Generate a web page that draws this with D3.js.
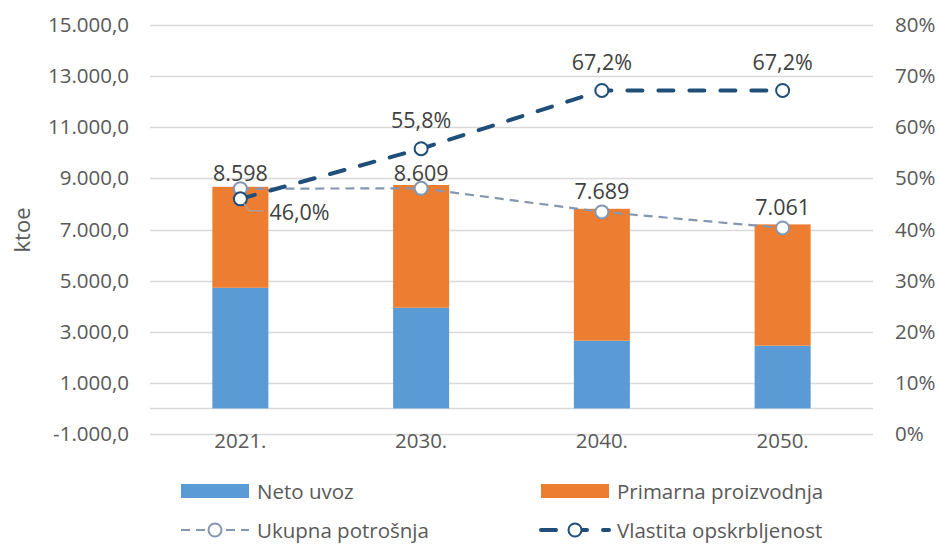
<!DOCTYPE html>
<html>
<head>
<meta charset="utf-8">
<script src="https://cdn.jsdelivr.net/npm/d3@7"></script>
<style>
  body { margin: 0; background: #fff; }
  svg text { font-family: "Open Sans", "Liberation Sans", sans-serif; }
</style>
</head>
<body>
<svg id="chart" width="939" height="544"></svg>
<script>
// chart data
var years = ['2021.', '2030.', '2040.', '2050.']
var netoUvoz = [4720, 3940, 2650, 2455]
var primarnaProizvodnja = [3950, 4800, 5160, 4745]
var ukupnaPotrosnja = [8598, 8609, 7689, 7061]
var vlastitaOpskrbljenost = [0.460, 0.558, 0.672, 0.672]
var leftTicks = [-1000, 1000, 3000, 5000, 7000, 9000, 11000, 13000, 15000]
var rightTicks = [0, 0.1, 0.2, 0.3, 0.4, 0.5, 0.6, 0.7, 0.8]

var hr = d3.formatLocale({decimal: ',', thousands: '.', grouping: [3], currency: ['', ' kn'], minus: '-'})
var fmtLeft = hr.format(',.1f')
var fmtInt = hr.format(',d')
var fmtPct1 = hr.format('.1%')
var fmtPct0 = hr.format('.0%')

var svg = d3.select('#chart')
var textColor = '#595959', labelColor = '#404040'

var x = d3.scaleBand().domain(years).range([150, 873]).paddingInner(0.69).paddingOuter(0.345)
var y = d3.scaleLinear().domain([-1000, 15000]).range([434, 25])
var y2 = d3.scaleLinear().domain([0, 0.8]).range([434, 25])
var cx = function (d, i) { return x(years[i]) + x.bandwidth() / 2 }

// gridlines + zero line
svg.append('g').selectAll('line').data(leftTicks.concat([0])).join('line')
  .attr('x1', 150).attr('x2', 873)
  .attr('y1', d => Math.round(y(d)) + 0.5).attr('y2', d => Math.round(y(d)) + 0.5)
  .attr('stroke', '#d9d9d9').attr('stroke-width', 1.3)

// left axis
var gl = svg.append('g').attr('transform', 'translate(129,0)')
  .call(d3.axisLeft(y).tickValues(leftTicks).tickFormat(fmtLeft).tickSize(0).tickPadding(0))
gl.select('.domain').remove()
gl.selectAll('text').attr('fill', textColor).style('font-size', '20.5px').style('font-family', '"Open Sans"')

// right axis
var gr = svg.append('g').attr('transform', 'translate(895,0)')
  .call(d3.axisRight(y2).tickValues(rightTicks).tickFormat(fmtPct0).tickSize(0).tickPadding(0))
gr.select('.domain').remove()
gr.selectAll('text').attr('fill', textColor).style('font-size', '20.5px').style('font-family', '"Open Sans"')

// x labels
svg.append('g').selectAll('text').data(years).join('text')
  .attr('x', (d, i) => cx(d, i)).attr('y', 440)
  .attr('text-anchor', 'middle').attr('dominant-baseline', 'central')
  .attr('fill', textColor).style('font-size', '20.5px')
  .text(d => d)

// y title
svg.append('text').attr('transform', 'translate(21,230) rotate(-90)')
  .attr('text-anchor', 'middle').attr('dominant-baseline', 'central')
  .attr('fill', textColor).style('font-size', '22px').text('ktoe')

// stacked bars
var stackData = years.map((yr, i) => ({year: yr, uvoz: netoUvoz[i], proizvodnja: primarnaProizvodnja[i]}))
var series = d3.stack().keys(['uvoz', 'proizvodnja'])(stackData)
var barColors = {uvoz: '#5b9bd5', proizvodnja: '#ed7d31'}
svg.append('g').selectAll('g').data(series).join('g')
  .attr('fill', d => barColors[d.key])
  .selectAll('rect').data(d => d).join('rect')
  .attr('x', d => x(d.data.year)).attr('width', x.bandwidth())
  .attr('y', d => y(d[1])).attr('height', d => y(d[0]) - y(d[1]))

// Ukupna potrosnja line
var lineCons = d3.line().x((d, i) => cx(d, i)).y(d => y(d))
svg.append('path').datum(ukupnaPotrosnja).attr('d', lineCons)
  .attr('fill', 'none').attr('stroke', '#8497b0').attr('stroke-width', 2.2)
  .attr('stroke-dasharray', '9,6')

// Vlastita opskrbljenost line
var linePct = d3.line().x((d, i) => cx(d, i)).y(d => y2(d))
svg.append('path').datum(vlastitaOpskrbljenost).attr('d', linePct)
  .attr('fill', 'none').attr('stroke', '#1f4e79').attr('stroke-width', 4)
  .attr('stroke-linecap', 'round').attr('stroke-dasharray', '15,16')

// markers
svg.append('g').selectAll('circle').data(ukupnaPotrosnja).join('circle')
  .attr('cx', (d, i) => cx(d, i)).attr('cy', d => y(d)).attr('r', 6.5)
  .attr('fill', '#fff').attr('stroke', '#8497b0').attr('stroke-width', 2)
svg.append('g').selectAll('circle').data(vlastitaOpskrbljenost).join('circle')
  .attr('cx', (d, i) => cx(d, i)).attr('cy', d => y2(d)).attr('r', 6.5)
  .attr('fill', '#fff').attr('stroke', '#1f4e79').attr('stroke-width', 2)

// data labels
var consDy = [-16, -16, -21, -21]
svg.append('g').selectAll('text').data(ukupnaPotrosnja).join('text')
  .attr('x', (d, i) => cx(d, i)).attr('y', (d, i) => y(d) + consDy[i])
  .attr('text-anchor', 'middle').attr('dominant-baseline', 'central')
  .attr('fill', labelColor).style('font-size', '21.5px')
  .text(d => fmtInt(d))

svg.append('g').selectAll('text').data(vlastitaOpskrbljenost).join('text')
  .attr('x', (d, i) => i === 0 ? cx(d, i) + 29 : cx(d, i))
  .attr('y', (d, i) => i === 0 ? y2(d) + 13 : y2(d) - 29)
  .attr('text-anchor', (d, i) => i === 0 ? 'start' : 'middle').attr('dominant-baseline', 'central')
  .attr('fill', labelColor).style('font-size', '21.5px')
  .text(d => fmtPct1(d))

// leader line for first percentage label
var p0x = cx(null, 0), p0y = y2(vlastitaOpskrbljenost[0])
svg.append('polyline')
  .attr('points', [[p0x + 3, p0y + 4], [p0x + 9, p0y + 12], [p0x + 23, p0y + 12]].map(p => p.join(',')).join(' '))
  .attr('fill', 'none').attr('stroke', '#a6a6a6').attr('stroke-width', 1.3)

// legend
var legend = svg.append('g')
var legendItems = [
  {name: 'Neto uvoz', type: 'rect', color: '#5b9bd5', x: 181, y: 491},
  {name: 'Primarna proizvodnja', type: 'rect', color: '#ed7d31', x: 541, y: 491},
  {name: 'Ukupna potrošnja', type: 'line', color: '#8497b0', width: 2.2, dash: '9,6', x: 181, y: 530},
  {name: 'Vlastita opskrbljenost', type: 'line', color: '#1f4e79', width: 4, dash: '15,16', x: 541, y: 530}
]
legendItems.forEach(function (item) {
  if (item.type === 'rect') {
    legend.append('rect').attr('x', item.x).attr('y', item.y - 7).attr('width', 68).attr('height', 14)
      .attr('fill', item.color)
  } else {
    legend.append('line').attr('x1', item.x).attr('x2', item.x + 68).attr('y1', item.y).attr('y2', item.y)
      .attr('stroke', item.color).attr('stroke-width', item.width).attr('stroke-dasharray', item.dash)
      .attr('stroke-linecap', item.width > 3 ? 'round' : 'butt')
    legend.append('circle').attr('cx', item.x + 34).attr('cy', item.y).attr('r', 6.5)
      .attr('fill', '#fff').attr('stroke', item.color).attr('stroke-width', 2)
  }
  legend.append('text').attr('x', item.x + 76).attr('y', item.y)
    .attr('dominant-baseline', 'central').attr('fill', textColor).style('font-size', '20.5px')
    .text(item.name)
})
</script>
</body>
</html>
